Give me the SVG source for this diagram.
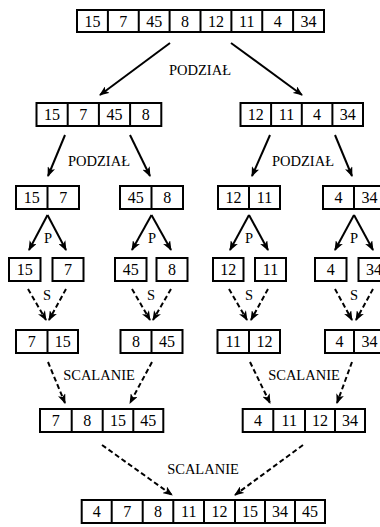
<svg xmlns="http://www.w3.org/2000/svg" width="380" height="527" viewBox="0 0 380 527">
<defs>
<style>
.cell{fill:#fff;stroke:#000;stroke-width:2}
.num{font-size:16px;text-anchor:middle;fill:#000}
.lbl{font-size:14.5px;text-anchor:middle;fill:#000}
.arr{stroke:#000;stroke-width:2;fill:none;marker-end:url(#ah)}
.dash{stroke-dasharray:5,3}
</style>
<marker id="ah" viewBox="0 0 10 8" refX="9" refY="4" markerWidth="10" markerHeight="8" orient="auto" markerUnits="userSpaceOnUse">
<path d="M0,0 L10,4 L0,8 L2.5,4 z" fill="#000"/>
</marker>
</defs>
<rect width="380" height="527" fill="#fff"/>

<g id="connectors">
<line class="arr" x1="170" y1="43" x2="100" y2="95"/>
<line class="arr" x1="231" y1="43" x2="302" y2="95"/>
<line class="arr" x1="65" y1="135" x2="48" y2="176"/>
<line class="arr" x1="130" y1="135" x2="150" y2="176"/>
<line class="arr" x1="270" y1="135" x2="252" y2="176"/>
<line class="arr" x1="335" y1="135" x2="352" y2="176"/>
<line class="arr" x1="47.5" y1="215" x2="29" y2="250"/>
<line class="arr" x1="47.5" y1="215" x2="66" y2="250"/>
<line class="arr" x1="151.5" y1="215" x2="132" y2="250"/>
<line class="arr" x1="151.5" y1="215" x2="171" y2="250"/>
<line class="arr" x1="249" y1="215" x2="230" y2="250"/>
<line class="arr" x1="249" y1="215" x2="268" y2="250"/>
<line class="arr" x1="354" y1="215" x2="335" y2="250"/>
<line class="arr" x1="354" y1="215" x2="373" y2="250"/>
<line class="arr dash" x1="28" y1="289" x2="46" y2="320"/>
<line class="arr dash" x1="66" y1="289" x2="49" y2="320"/>
<line class="arr dash" x1="132" y1="289" x2="150" y2="320"/>
<line class="arr dash" x1="171" y1="289" x2="153" y2="320"/>
<line class="arr dash" x1="229" y1="289" x2="247" y2="320"/>
<line class="arr dash" x1="268" y1="289" x2="251" y2="320"/>
<line class="arr dash" x1="335" y1="289" x2="352" y2="320"/>
<line class="arr dash" x1="373" y1="289" x2="356" y2="320"/>
<line class="arr dash" x1="48" y1="362" x2="65" y2="403"/>
<line class="arr dash" x1="152" y1="362" x2="130" y2="403"/>
<line class="arr dash" x1="250" y1="362" x2="270" y2="403"/>
<line class="arr dash" x1="352" y1="362" x2="337" y2="403"/>
<line class="arr dash" x1="102" y1="445" x2="172" y2="495"/>
<line class="arr dash" x1="303" y1="445" x2="235" y2="495"/>
</g>

<g id="labels" font-family="Liberation Serif, Times New Roman, serif">
<text class="lbl" x="200" y="75">PODZIAŁ</text>
<text class="lbl" x="99" y="166">PODZIAŁ</text>
<text class="lbl" x="303" y="166">PODZIAŁ</text>
<text class="lbl" x="48" y="243">P</text>
<text class="lbl" x="152" y="243">P</text>
<text class="lbl" x="249" y="243">P</text>
<text class="lbl" x="354" y="243">P</text>
<text class="lbl" x="47" y="300">S</text>
<text class="lbl" x="151" y="300">S</text>
<text class="lbl" x="249" y="300">S</text>
<text class="lbl" x="354" y="300">S</text>
<text class="lbl" x="99" y="380">SCALANIE</text>
<text class="lbl" x="304" y="380">SCALANIE</text>
<text class="lbl" x="203" y="474">SCALANIE</text>
</g>

<g font-family="Liberation Serif, Times New Roman, serif">
<g id="row1">
<rect class="cell" x="77" y="10" width="247" height="22"/>
<path d="M107.9,10V32M138.75,10V32M169.6,10V32M200.5,10V32M231.4,10V32M262.25,10V32M293.1,10V32" stroke="#000" stroke-width="2"/>
<text class="num" x="92.4" y="26.5">15</text>
<text class="num" x="123.3" y="26.5">7</text>
<text class="num" x="154.2" y="26.5">45</text>
<text class="num" x="185" y="26.5">8</text>
<text class="num" x="216" y="26.5">12</text>
<text class="num" x="246.8" y="26.5">11</text>
<text class="num" x="277.7" y="26.5">4</text>
<text class="num" x="308.5" y="26.5">34</text>
</g>

<g id="row2-left">
<rect class="cell" x="36.5" y="103" width="124.8" height="23"/>
<path d="M67.7,103V126M98.9,103V126M130.1,103V126" stroke="#000" stroke-width="2"/>
<text class="num" x="52.1" y="120">15</text>
<text class="num" x="83.3" y="120">7</text>
<text class="num" x="114.5" y="120">45</text>
<text class="num" x="145.7" y="120">8</text>
</g>
<g id="row2-right">
<rect class="cell" x="240.5" y="103" width="122.5" height="23"/>
<path d="M271.1,103V126M301.8,103V126M332.4,103V126" stroke="#000" stroke-width="2"/>
<text class="num" x="255.8" y="120">12</text>
<text class="num" x="286.5" y="120">11</text>
<text class="num" x="317.1" y="120">4</text>
<text class="num" x="347.7" y="120">34</text>
</g>

<g id="row3-a">
<rect class="cell" x="16" y="186" width="63" height="23"/>
<path d="M47.5,186V209" stroke="#000" stroke-width="2"/>
<text class="num" x="31.7" y="203">15</text>
<text class="num" x="63.2" y="203">7</text>
</g>
<g id="row3-b">
<rect class="cell" x="120" y="186" width="63" height="23"/>
<path d="M151.5,186V209" stroke="#000" stroke-width="2"/>
<text class="num" x="135.7" y="203">45</text>
<text class="num" x="167.2" y="203">8</text>
</g>
<g id="row3-c">
<rect class="cell" x="218" y="186" width="62" height="23"/>
<path d="M249,186V209" stroke="#000" stroke-width="2"/>
<text class="num" x="233.5" y="203">12</text>
<text class="num" x="264.5" y="203">11</text>
</g>
<g id="row3-d">
<rect class="cell" x="323" y="186" width="62" height="23"/>
<path d="M354,186V209" stroke="#000" stroke-width="2"/>
<text class="num" x="338.5" y="203">4</text>
<text class="num" x="369.5" y="203">34</text>
</g>

<g id="row4-1"><rect class="cell" x="9" y="258" width="31.5" height="23"/><text class="num" x="24.7" y="275">15</text></g>
<g id="row4-2"><rect class="cell" x="52.5" y="258" width="31" height="23"/><text class="num" x="68" y="275">7</text></g>
<g id="row4-3"><rect class="cell" x="115" y="258" width="31.5" height="23"/><text class="num" x="130.7" y="275">45</text></g>
<g id="row4-4"><rect class="cell" x="156.5" y="258" width="31" height="23"/><text class="num" x="172" y="275">8</text></g>
<g id="row4-5"><rect class="cell" x="213" y="258" width="30.5" height="23"/><text class="num" x="228.2" y="275">12</text></g>
<g id="row4-6"><rect class="cell" x="255" y="258" width="31" height="23"/><text class="num" x="270.5" y="275">11</text></g>
<g id="row4-7"><rect class="cell" x="315" y="258" width="31.5" height="23"/><text class="num" x="330.7" y="275">4</text></g>
<g id="row4-8"><rect class="cell" x="358.5" y="258" width="31" height="23"/><text class="num" x="374" y="275">34</text></g>

<g id="row5-a">
<rect class="cell" x="16" y="330" width="62" height="23"/>
<path d="M47.5,330V353" stroke="#000" stroke-width="2"/>
<text class="num" x="31.7" y="347">7</text>
<text class="num" x="62.7" y="347">15</text>
</g>
<g id="row5-b">
<rect class="cell" x="120.5" y="330" width="62" height="23"/>
<path d="M151.5,330V353" stroke="#000" stroke-width="2"/>
<text class="num" x="136" y="347">8</text>
<text class="num" x="167" y="347">45</text>
</g>
<g id="row5-c">
<rect class="cell" x="217.5" y="330" width="62.5" height="23"/>
<path d="M249,330V353" stroke="#000" stroke-width="2"/>
<text class="num" x="233.2" y="347">11</text>
<text class="num" x="264.5" y="347">12</text>
</g>
<g id="row5-d">
<rect class="cell" x="325" y="330" width="60" height="23"/>
<path d="M354,330V353" stroke="#000" stroke-width="2"/>
<text class="num" x="339.5" y="347">4</text>
<text class="num" x="369.5" y="347">34</text>
</g>

<g id="row6-left">
<rect class="cell" x="40" y="409" width="123.3" height="23"/>
<path d="M71.7,409V432M102.7,409V432M133.3,409V432" stroke="#000" stroke-width="2"/>
<text class="num" x="55.8" y="426">7</text>
<text class="num" x="87.2" y="426">8</text>
<text class="num" x="118" y="426">15</text>
<text class="num" x="148.3" y="426">45</text>
</g>
<g id="row6-right">
<rect class="cell" x="242.7" y="409" width="122.3" height="23"/>
<path d="M273.3,409V432M305,409V432M335,409V432" stroke="#000" stroke-width="2"/>
<text class="num" x="258" y="426">4</text>
<text class="num" x="289.2" y="426">11</text>
<text class="num" x="320" y="426">12</text>
<text class="num" x="350" y="426">34</text>
</g>

<g id="row7">
<rect class="cell" x="81.7" y="500" width="243.3" height="23"/>
<path d="M111.7,500V523M142.7,500V523M173.3,500V523M204,500V523M235,500V523M265,500V523M295,500V523" stroke="#000" stroke-width="2"/>
<text class="num" x="96.7" y="517">4</text>
<text class="num" x="127.2" y="517">7</text>
<text class="num" x="158" y="517">8</text>
<text class="num" x="188.7" y="517">11</text>
<text class="num" x="219.5" y="517">12</text>
<text class="num" x="250" y="517">15</text>
<text class="num" x="280" y="517">34</text>
<text class="num" x="310" y="517">45</text>
</g>
</g>
</svg>
